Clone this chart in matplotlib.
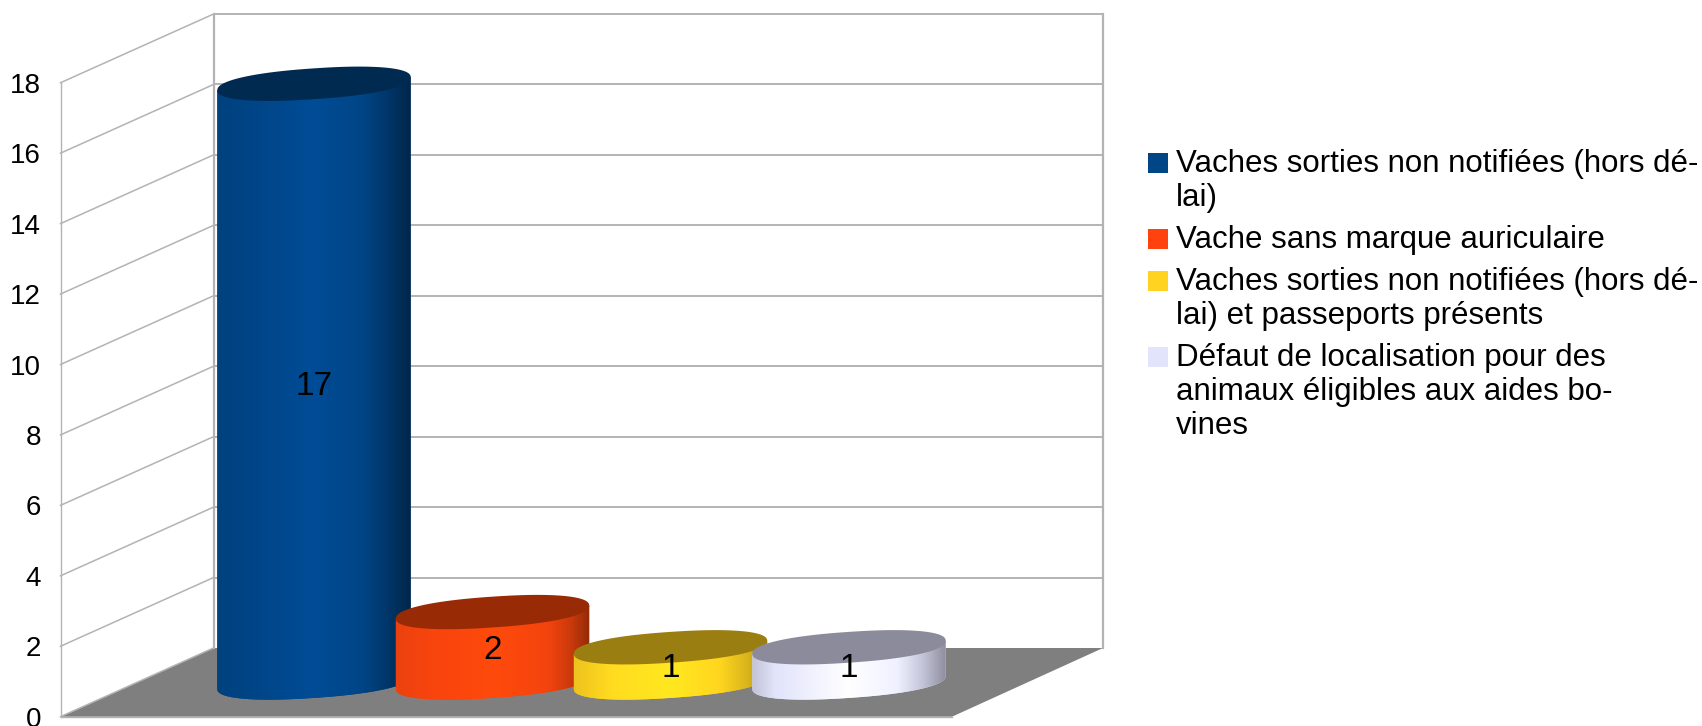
import numpy as np
import matplotlib
matplotlib.use('Agg')
import matplotlib.pyplot as plt
from matplotlib.colors import LinearSegmentedColormap
from matplotlib.patches import Polygon

plt.rcParams['font.family'] = ['Liberation Sans', 'DejaVu Sans']

categories = ['Vaches sorties non notifiées (hors dé-\nlai)',
              'Vache sans marque auriculaire',
              'Vaches sorties non notifiées (hors dé-\nlai) et passeports présents',
              'Défaut de localisation pour des\nanimaux éligibles aux aides bo-\nvines']
values = [17, 2, 1, 1]
y_ticks = [0, 2, 4, 6, 8, 10, 12, 14, 16, 18]

colors = ['#004586', '#ff420e', '#ffd320', '#e1e4fb']
top_colors = ['#012a50', '#982b06', '#9b7e12', '#8b8b9b']
# left to right shading across each cylinder
shades = [
    [(0, '#00417e'), (0.5, '#004c96'), (0.75, '#004586'), (0.88, '#00366a'), (1, '#00264a')],
    [(0, '#ec420f'), (0.18, '#f8440e'), (0.5, '#ff4a0c'), (0.78, '#f4440e'), (0.9, '#cc3a0c'), (1, '#932b08')],
    [(0, '#eec31e'), (0.2, '#ffdc20'), (0.5, '#ffe81f'), (0.75, '#ffd61f'), (0.9, '#d8b41c'), (1, '#a58a18')],
    [(0, '#c2c3d6'), (0.12, '#e1e4fb'), (0.5, '#ffffff'), (0.75, '#f0f1ff'), (0.88, '#c4c5d8'), (1, '#8f8fa0')],
]

fig = plt.figure(figsize=(17.02, 7.26), dpi=100)
ax = fig.add_axes([0, 0, 1, 1])

# pixel frame of the pseudo 3D box
grid_col = '#b3b3b3'
front_x, back_x, right_x, floor_right = 60.5, 213.5, 1103, 952
front_y0, back_y0 = 716.7, 648
unit = 35.22
bar_y0 = 682.5
bar_a = 96.7
bar_b = 15.4
bar_c = -6.5
bar_x = [314, 492.5, 670.5, 849]


def ring(t, cx, cy):
    # slightly blunt ellipse, sheared so the right end sits higher
    c = np.sign(np.cos(t)) * np.abs(np.cos(t)) ** 0.88
    s = np.sign(np.sin(t)) * np.abs(np.sin(t)) ** 0.88
    return np.column_stack([cx + bar_a * c, cy + bar_b * s + bar_c * c])


ax.add_patch(Polygon([(front_x, front_y0), (back_x, back_y0), (right_x, back_y0), (floor_right, front_y0)],
                     fc='#7f7f7f', ec='none', zorder=1))
for v in y_ticks:
    yf = front_y0 - v * unit
    yb = back_y0 - v * unit
    ax.plot([front_x, back_x], [yf, yb], color=grid_col, lw=1.1, zorder=2)
    if v > 0:
        ax.plot([back_x, right_x], [yb, yb], color=grid_col, lw=1.4, zorder=2)
    ax.text(41, yf, str(v), ha='right', va='center_baseline', fontsize=20, color='black', zorder=6)
top_y = back_y0 - y_ticks[-1] * unit
ax.plot([front_x, front_x], [front_y0, front_y0 - y_ticks[-1] * unit], color=grid_col, lw=1.0, zorder=2)
ax.plot([back_x, back_x], [back_y0, top_y], color=grid_col, lw=1.6, zorder=2)
ax.plot([right_x, right_x], [back_y0, top_y], color=grid_col, lw=1.6, zorder=2)
ax.plot([front_x, floor_right], [front_y0, front_y0], color=grid_col, lw=1.0, zorder=2)

# cylinders, each one overlaps the previous
t_low = np.linspace(np.pi, 0, 200)
t_all = np.linspace(0, 2 * np.pi, 400)
for i, val in enumerate(values):
    cx = bar_x[i]
    ytop = bar_y0 - val * unit
    body = np.vstack([ring(t_low, cx, bar_y0),
                      [cx + bar_a, ytop + bar_c], [cx - bar_a, ytop - bar_c]])
    z = 3 + i * 0.1
    patch = Polygon(body, fc=colors[i], ec='none', zorder=z)
    ax.add_patch(patch)
    cmap = LinearSegmentedColormap.from_list('shade%d' % i, shades[i])
    grad = np.linspace(0, 1, 256).reshape(1, -1)
    im = ax.imshow(grad, cmap=cmap, aspect='auto', zorder=z + 0.01, interpolation='bilinear',
                   extent=[cx - bar_a, cx + bar_a, bar_y0 + 20, ytop - 20])
    im.set_clip_path(patch)
    ax.add_patch(Polygon(ring(t_all, cx, ytop), fc=top_colors[i], ec='none', zorder=z + 0.02))
    ax.text(cx, (bar_y0 + ytop) / 2 + 3.5, str(val), ha='center', va='center',
            fontsize=24, color='black', zorder=6)

# legend
legend_base = [172, 248, 290, 366]
line_step = 34
for i, name in enumerate(categories):
    ax.add_patch(Polygon([(1148, legend_base[i] - 19), (1168, legend_base[i] - 19),
                          (1168, legend_base[i] + 0.5), (1148, legend_base[i] + 0.5)],
                         fc=colors[i], ec='none', zorder=5))
    for j, line in enumerate(name.split('\n')):
        ax.text(1175.5, legend_base[i] + j * line_step, line, ha='left', va='baseline',
                fontsize=22.5, color='black', zorder=6)

ax.set_xlim(0, 1702)
ax.set_ylim(726, 0)
ax.axis('off')

fig.savefig('out.png', dpi=100, facecolor='white')
